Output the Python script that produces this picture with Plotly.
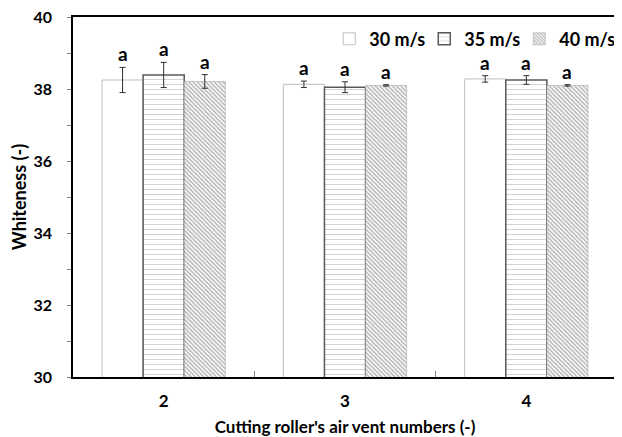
import plotly.graph_objects as go

categories = ["2", "3", "4"]
series_names = ["30 m/s", "35 m/s", "40 m/s"]
values_30 = [38.25, 38.13, 38.28]
values_35 = [38.39, 38.05, 38.25]
values_40 = [38.21, 38.10, 38.10]
err_30 = [0.35, 0.09, 0.09]
err_35 = [0.35, 0.15, 0.12]
err_40 = [0.19, 0.02, 0.02]
letters_30 = ["a", "a", "a"]
letters_35 = ["a", "a", "a"]
letters_40 = ["a", "a", "a"]
y_ticks = [30, 32, 34, 36, 38, 40]

FONT = "Lato"
series = [
    (series_names[0], values_30, err_30, letters_30,
     dict(color="white", line=dict(color="#bfbfbf", width=1))),
    (series_names[1], values_35, err_35, letters_35,
     dict(color="white", line=dict(color="#595959", width=1.5),
          pattern=dict(shape="-", fgcolor="#a8a8a8", bgcolor="white", size=5, solidity=0.2))),
    (series_names[2], values_40, err_40, letters_40,
     dict(color="white", line=dict(color="#9a9a9a", width=0.5),
          pattern=dict(shape="\\", fgcolor="#6a6a6a", bgcolor="white", size=3, solidity=0.5))),
]

fig = go.Figure()
for name, vals, errs, letters, marker in series:
    fig.add_trace(go.Bar(
        x=categories, y=vals, name=name, marker=marker,
        error_y=dict(type="data", array=errs, color="#303030", thickness=1, width=3),
    ))

# significance letters
n = len(series)
for i, (name, vals, errs, letters, marker) in enumerate(series):
    for j, cat in enumerate(categories):
        fig.add_annotation(
            x=j + (i - (n - 1) / 2) * 0.226, y=vals[j] + errs[j],
            xref="x", yref="y", text=letters[j],
            showarrow=False, yanchor="bottom", yshift=0,
            font=dict(family=FONT, size=19, color="black", weight="bold"),
        )

bold = lambda s: dict(family=FONT, size=s, color="black", weight="bold")

# page body has an 8px margin, so the figure is sized/offset to compensate
fig.update_layout(
    width=614, height=429,
    margin=dict(l=65, r=5, t=9, b=60, autoexpand=False),
    paper_bgcolor="white", plot_bgcolor="white",
    barmode="group", bargap=0.32, bargroupgap=0,
    font=dict(family=FONT, color="black"),
    showlegend=True,
    legend=dict(orientation="h", x=0.995, xanchor="right", y=0.99, yanchor="top",
                font=bold(18), itemwidth=30, entrywidth=50, entrywidthmode="pixels",
                bgcolor="rgba(0,0,0,0)", traceorder="normal"),
    xaxis=dict(
        type="category", range=[-0.5, 2.5], automargin=False,
        showline=True, linecolor="black", linewidth=1.5, mirror=True,
        ticks="inside", tickson="boundaries", ticklen=6, tickcolor="#808080",
        tickfont=bold(17),
        ticklabelstandoff=8,
        title=dict(text="Cutting roller's air vent numbers (-)",
                   font=bold(17), standoff=12),
        showgrid=False, zeroline=False,
    ),
    yaxis=dict(
        range=[30, 40], tickvals=y_ticks, automargin=False,
        showline=True, linecolor="black", linewidth=1.5, mirror=True,
        ticks="outside", ticklen=4, tickcolor="#808080",
        minor=dict(dtick=1, ticks="outside", ticklen=4, tickcolor="#808080"),
        tickfont=bold(16), ticklabeloverflow="allow",
        ticklabelstandoff=12,
        title=dict(text="Whiteness (-)", font=bold(18), standoff=6),
        showgrid=False, zeroline=False,
    ),
)

fig.write_html("out.html")
